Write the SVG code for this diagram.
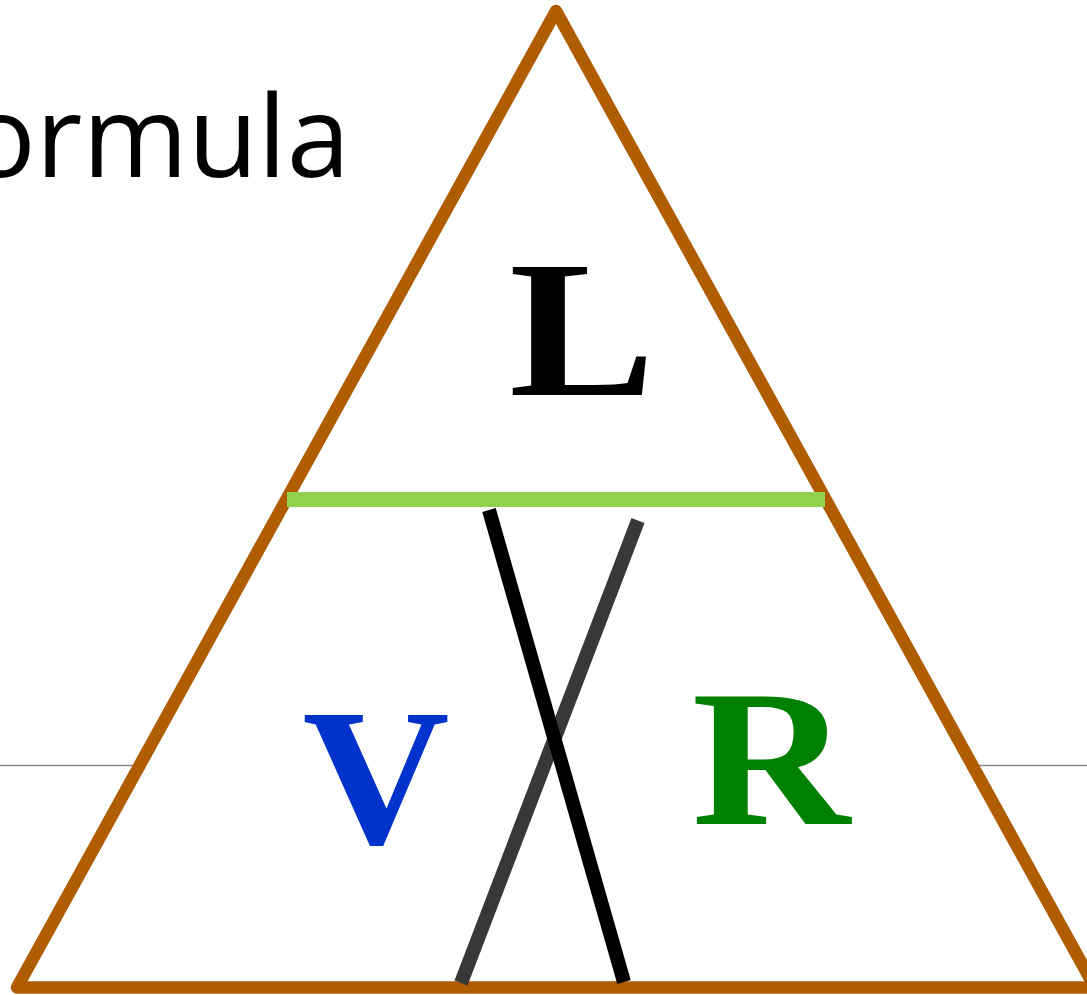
<svg xmlns="http://www.w3.org/2000/svg" width="1087" height="995" viewBox="0 0 1087 995">
<style>
.letter{font-family:"Liberation Serif","Times New Roman",serif;font-weight:bold;font-size:194px;text-anchor:middle}
.title{font-family:"Open Sans","Noto Sans",sans-serif;font-size:114px;fill:#000}
</style>
<rect x="0" y="0" width="1087" height="995" fill="#ffffff"/>
<text class="title" x="350" y="177" text-anchor="end">ormula</text>
<line x1="0" y1="765.5" x2="1087" y2="765.5" stroke="#8c8c8c" stroke-width="1.5"/>
<g id="triangle">
<polygon points="556,11 17,987.5 1095,987.5" fill="#ffffff" stroke="#b05c00" stroke-width="12.5" stroke-linejoin="round"/>
</g>
<g id="connectors">
<line x1="287" y1="499.5" x2="825" y2="499.5" stroke="#92d050" stroke-width="15"/>
<line x1="638" y1="520.5" x2="461" y2="983" stroke="#383838" stroke-width="14"/>
<line x1="489" y1="510" x2="624" y2="982" stroke="#000000" stroke-width="14"/>
</g>
<g id="node-L"><text class="letter" transform="translate(582,395) scale(1.13,1)" fill="#000000">L</text></g>
<g id="node-V"><text class="letter" transform="translate(376,843) scale(1.05,1)" fill="#0033cc">V</text></g>
<g id="node-R"><text class="letter" transform="translate(771,824) scale(1.13,1)" fill="#008000">R</text></g>
</svg>
